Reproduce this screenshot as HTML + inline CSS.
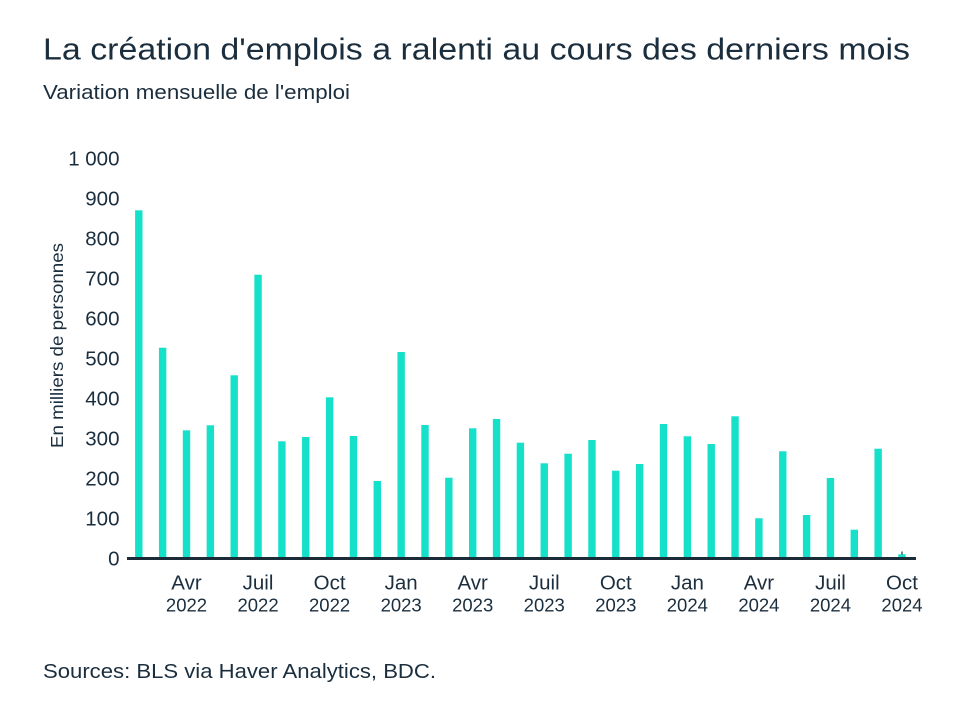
<!DOCTYPE html>
<html>
<head>
<meta charset="utf-8">
<style>
  html, body { margin: 0; padding: 0; background: #ffffff; }
  svg { display: block; }
  text { font-family: "Liberation Sans", sans-serif; fill: #1b2e3e; }
</style>
</head>
<body>
<svg width="960" height="720" viewBox="0 0 960 720" xmlns="http://www.w3.org/2000/svg">
  <rect width="960" height="720" fill="#ffffff"/>

  <!-- Title -->
  <text x="43" y="59.5" font-size="31" textLength="867" lengthAdjust="spacingAndGlyphs">La création d'emplois a ralenti au cours des derniers mois</text>
  <text x="43" y="99" font-size="20.5" textLength="307" lengthAdjust="spacingAndGlyphs">Variation mensuelle de l'emploi</text>

  <!-- Y axis label -->
  <text transform="translate(63,345.5) rotate(-90)" text-anchor="middle" font-size="17.5" textLength="205" lengthAdjust="spacingAndGlyphs">En milliers de personnes</text>

  <!-- Y tick labels -->
  <g font-size="20.5" text-anchor="end">
    <text x="119.5" y="165.5">1 000</text>
    <text x="119.5" y="205.5">900</text>
    <text x="119.5" y="245.5">800</text>
    <text x="119.5" y="285.5">700</text>
    <text x="119.5" y="325.5">600</text>
    <text x="119.5" y="365.5">500</text>
    <text x="119.5" y="405.5">400</text>
    <text x="119.5" y="445.5">300</text>
    <text x="119.5" y="485.5">200</text>
    <text x="119.5" y="525.5">100</text>
    <text x="119.5" y="565.5">0</text>
  </g>

  <!-- Bars -->
  <g fill="#15e0c9">
    <rect x="135.1" y="210.3" width="7.4" height="347.7"/>
    <rect x="158.95" y="347.7" width="7.4" height="210.3"/>
    <rect x="182.8" y="430.3" width="7.4" height="127.7"/>
    <rect x="206.65" y="425.3" width="7.4" height="132.7"/>
    <rect x="230.5" y="375.3" width="7.4" height="182.7"/>
    <rect x="254.35" y="274.7" width="7.4" height="283.3"/>
    <rect x="278.2" y="441.3" width="7.4" height="116.7"/>
    <rect x="302.05" y="437" width="7.4" height="121"/>
    <rect x="325.9" y="397.3" width="7.4" height="160.7"/>
    <rect x="349.75" y="436" width="7.4" height="122"/>
    <rect x="373.6" y="481" width="7.4" height="77"/>
    <rect x="397.45" y="352" width="7.4" height="206"/>
    <rect x="421.3" y="425" width="7.4" height="133"/>
    <rect x="445.15" y="477.7" width="7.4" height="80.3"/>
    <rect x="469.0" y="428.3" width="7.4" height="129.7"/>
    <rect x="492.85" y="419" width="7.4" height="139"/>
    <rect x="516.7" y="442.7" width="7.4" height="115.3"/>
    <rect x="540.55" y="463.3" width="7.4" height="94.7"/>
    <rect x="564.4" y="453.7" width="7.4" height="104.3"/>
    <rect x="588.25" y="440" width="7.4" height="118"/>
    <rect x="612.1" y="470.7" width="7.4" height="87.3"/>
    <rect x="635.95" y="464" width="7.4" height="94"/>
    <rect x="659.8" y="424" width="7.4" height="134"/>
    <rect x="683.65" y="436.3" width="7.4" height="121.7"/>
    <rect x="707.5" y="444" width="7.4" height="114"/>
    <rect x="731.35" y="416.3" width="7.4" height="141.7"/>
    <rect x="755.2" y="518.3" width="7.4" height="39.7"/>
    <rect x="779.05" y="451.3" width="7.4" height="106.7"/>
    <rect x="802.9" y="515" width="7.4" height="43"/>
    <rect x="826.75" y="478" width="7.4" height="80"/>
    <rect x="850.6" y="529.7" width="7.4" height="28.3"/>
    <rect x="874.45" y="448.7" width="7.4" height="109.3"/>
    <rect x="898.3" y="554.3" width="7.4" height="3.7"/>
  </g>
  <!-- tiny mark on last bar -->
  <rect x="901.4" y="551.5" width="1.2" height="3" fill="#1b2e3e"/>

  <!-- X axis line -->
  <rect x="127" y="557" width="789" height="3" fill="#1b2b38"/>

  <!-- X labels -->
  <g font-size="20.5" text-anchor="middle">
    <text x="186.5" y="589.3">Avr</text>
    <text x="258.05" y="589.3">Juil</text>
    <text x="329.6" y="589.3">Oct</text>
    <text x="401.15" y="589.3">Jan</text>
    <text x="472.7" y="589.3">Avr</text>
    <text x="544.25" y="589.3">Juil</text>
    <text x="615.8" y="589.3">Oct</text>
    <text x="687.35" y="589.3">Jan</text>
    <text x="758.9" y="589.3">Avr</text>
    <text x="830.45" y="589.3">Juil</text>
    <text x="902" y="589.3">Oct</text>
  </g>
  <g font-size="18.5" text-anchor="middle">
    <text x="186.5" y="611.7">2022</text>
    <text x="258.05" y="611.7">2022</text>
    <text x="329.6" y="611.7">2022</text>
    <text x="401.15" y="611.7">2023</text>
    <text x="472.7" y="611.7">2023</text>
    <text x="544.25" y="611.7">2023</text>
    <text x="615.8" y="611.7">2023</text>
    <text x="687.35" y="611.7">2024</text>
    <text x="758.9" y="611.7">2024</text>
    <text x="830.45" y="611.7">2024</text>
    <text x="902" y="611.7">2024</text>
  </g>

  <!-- Source -->
  <text x="43" y="678" font-size="20.5" textLength="393" lengthAdjust="spacingAndGlyphs">Sources: BLS via Haver Analytics, BDC.</text>
</svg>
</body>
</html>
